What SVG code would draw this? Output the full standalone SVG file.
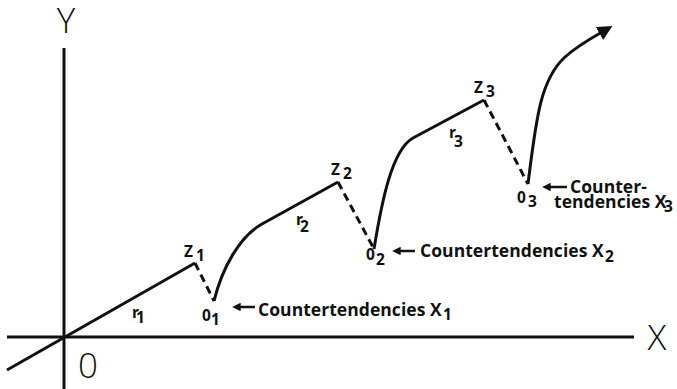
<svg xmlns="http://www.w3.org/2000/svg" width="677" height="389" viewBox="0 0 677 389">
<style>
.ax{stroke:#111;stroke-width:3;fill:none}
.ln{stroke:#111;stroke-width:3;fill:none;stroke-linejoin:miter}
.dash{stroke:#111;stroke-width:3;fill:none;stroke-dasharray:8 5}
.ptr{stroke:#111;stroke-width:2.5;fill:none}
.big{font-family:"Open Sans","Liberation Sans",sans-serif;font-weight:300;font-size:35px;fill:#111}
.lab{font-family:"Open Sans","Liberation Sans",sans-serif;font-weight:700;font-size:15.5px;fill:#111}
.cap{font-family:"Open Sans","Liberation Sans",sans-serif;font-weight:700;font-size:17.5px;letter-spacing:0.05px;fill:#111}
</style>
<defs>
<marker id="ah" viewBox="0 0 10 10" refX="2" refY="5" markerWidth="5" markerHeight="5" orient="auto" markerUnits="strokeWidth">
<path d="M0,0 L10,5 L0,10 z" fill="#111"/>
</marker>
<marker id="sh" viewBox="0 0 10 10" refX="2" refY="5" markerWidth="3.8" markerHeight="3.4" orient="auto" markerUnits="strokeWidth">
<path d="M0,0 L10,5 L0,10 z" fill="#111"/>
</marker>
</defs>
<rect width="677" height="389" fill="#fff"/>
<g id="axes">
<line class="ax" x1="64" y1="48" x2="64" y2="389"/>
<line class="ax" x1="7" y1="337" x2="634" y2="337"/>
<text class="big" x="66" y="33" text-anchor="middle">Y</text>
<text class="big" x="657" y="350" text-anchor="middle">X</text>
<text class="big" x="88" y="378" text-anchor="middle">0</text>
</g>
<g id="connectors">
<path class="ln" d="M7,370 L195,263"/>
<path class="dash" d="M195,263 L214,301"/>
<path class="ln" d="M214,301 C222,268 240,236 262,224 L338,182"/>
<path class="dash" d="M338,182 L374,249"/>
<path class="ln" d="M374,249 C382,200 392,150 413,138 L484,100"/>
<path class="dash" d="M484,100 L528,184"/>
<path class="ln" d="M528,184 C536,120 540,80 565,57 C575,48 588,40 602,32" marker-end="url(#ah)"/>
<line class="ptr" x1="255" y1="307" x2="239" y2="307" marker-end="url(#sh)"/>
<line class="ptr" x1="415" y1="251" x2="399" y2="251" marker-end="url(#sh)"/>
<line class="ptr" x1="567" y1="187" x2="549" y2="187" marker-end="url(#sh)"/>
</g>
<g id="z1"><text class="lab" x="184" y="257">Z<tspan x="196" y="261">1</tspan></text></g>
<g id="z2"><text class="lab" x="331" y="175">Z<tspan x="343" y="179">2</tspan></text></g>
<g id="z3"><text class="lab" x="474" y="93">Z<tspan x="486" y="97">3</tspan></text></g>
<g id="r1"><text class="lab" x="132" y="318">r<tspan x="136" y="323">1</tspan></text></g>
<g id="r2"><text class="lab" x="296" y="225">r<tspan x="300" y="232">2</tspan></text></g>
<g id="r3"><text class="lab" x="449" y="138">r<tspan x="454" y="147">3</tspan></text></g>
<g id="o1"><text class="lab" x="202" y="321">0<tspan x="211" y="325">1</tspan></text></g>
<g id="o2"><text class="lab" x="366" y="260">0<tspan x="376" y="265">2</tspan></text></g>
<g id="o3"><text class="lab" x="517" y="203">0<tspan x="528" y="207">3</tspan></text></g>
<g id="c1"><text class="cap" x="258" y="316">Countertendencies X</text><text class="lab" x="443" y="320">1</text></g>
<g id="c2"><text class="cap" x="420" y="257">Countertendencies X</text><text class="lab" x="605" y="262">2</text></g>
<g id="c3"><text class="cap" x="570" y="193">Counter-</text><text class="cap" x="554" y="208">tendencies X</text><text class="lab" x="664" y="212">3</text></g>
</svg>
